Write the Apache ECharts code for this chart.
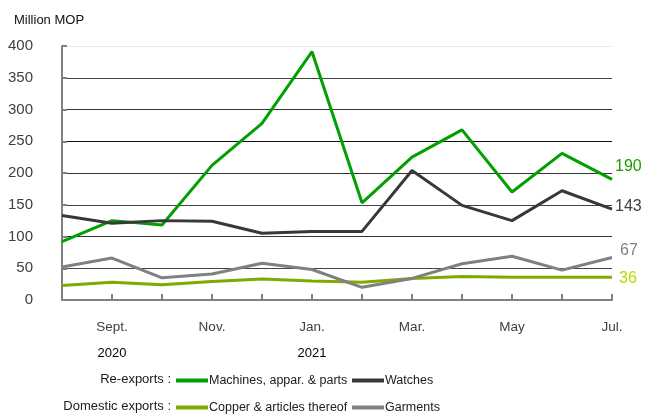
<!DOCTYPE html>
<html><head><meta charset="utf-8">
<script src="https://cdn.jsdelivr.net/npm/echarts@6/dist/echarts.min.js"></script>
<style>html,body{margin:0;padding:0;background:#fff}#c{width:649px;height:417px}</style>
</head><body><div id="c"></div>
<script>
const months = ['Aug.','Sept.','Oct.','Nov.','Dec.','Jan.','Feb.','Mar.','Apr.','May','Jun.','Jul.'];
const years = ['', '2020', '', '', '', '2021', '', '', '', '', '', ''];
const machines = [92,125,118,212,278,391,153,225,268,170,231,190];
const watches = [133,121,125,124,105,108,108,204,149,125,172,143];
const copper = [23,28,24,29,33,30,28,34,37,36,36,36];
const garments = [52,66,35,41,58,48,20,34,57,69,47,67];
const yTicks = [0,50,100,150,200,250,300,350,400];

const FONT = '"Liberation Sans Narrow","Arial Narrow","Liberation Sans",Arial,sans-serif';
const chart = echarts.init(document.getElementById('c'), null, {renderer:'canvas'});

function mkLegend(name, left, top){
  return {data:[name], left:left, top:top, icon:'rect', itemWidth:32, itemHeight:4,
    textStyle:{fontFamily:FONT, fontSize:12.5, color:'#202020', padding:[0,0,0,-4]}, padding:0, selectedMode:false};
}
function mkSeries(name, data, color, labelColor, offset){
  return {name:name, type:'line', data:data, symbol:'none', lineStyle:{width:3, color:color}, itemStyle:{color:color},
    animation:false,
    endLabel:{show:true, formatter:'{c}', color:labelColor, fontFamily:FONT, fontSize:16, distance:3, offset:offset}};
}
chart.setOption({
  animation:false,
  grid:{left:62, right:37, top:46, bottom:117},
  graphic:[
    {type:'text', left:14, top:14, style:{text:'Million MOP', fontFamily:FONT, fontSize:13, fill:'#111'}},
    {type:'text', right:478, top:373, style:{text:'Re-exports :', fontFamily:FONT, fontSize:13, fill:'#202020', textAlign:'right'}},
    {type:'text', right:478, top:400, style:{text:'Domestic exports :', fontFamily:FONT, fontSize:13, fill:'#202020', textAlign:'right'}}
  ],
  legend:[
    mkLegend('Machines, appar. & parts', 176, 374),
    mkLegend('Watches', 352, 374),
    mkLegend('Copper & articles thereof', 176, 401),
    mkLegend('Garments', 352, 401)
  ],
  xAxis:{type:'category', data:months, boundaryGap:false,
    axisLine:{lineStyle:{color:'#808080', width:2}},
    axisTick:{inside:true, length:6, interval:0, lineStyle:{color:'#808080', width:2}},
    axisLabel:{interval:(i)=>i%2===1, margin:14, fontFamily:FONT,
      formatter:(v,i)=>'{m|'+v+'}\n{y|'+years[i]+'}',
      rich:{m:{fontFamily:FONT, fontSize:13.5, color:'#404040', lineHeight:26},
            y:{fontFamily:FONT, fontSize:13, color:'#000', lineHeight:26}}}
  },
  yAxis:{type:'value', min:0, max:400, interval:50,
    axisLine:{show:true, lineStyle:{color:'#808080', width:2}},
    axisTick:{show:true, inside:true, length:5, lineStyle:{color:'#808080', width:2}},
    axisLabel:{fontFamily:FONT, fontSize:15, color:'#404040', margin:29, formatter:(v)=>yTicks.includes(v)?String(v):''},
    splitLine:{show:true, lineStyle:{width:1, color:['#333','#444','#333','#444','#333','#111','#333','#444','#e8e8e8']}}
  },
  series:[
    mkSeries('Machines, appar. & parts', machines, '#00a000', '#1f9a00', [0,-13]),
    mkSeries('Watches', watches, '#383838', '#404040', [0,-3]),
    mkSeries('Copper & articles thereof', copper, '#80aa00', '#b4dc00', [4,1]),
    mkSeries('Garments', garments, '#808080', '#808080', [5,-7])
  ]
});
</script></body></html>
